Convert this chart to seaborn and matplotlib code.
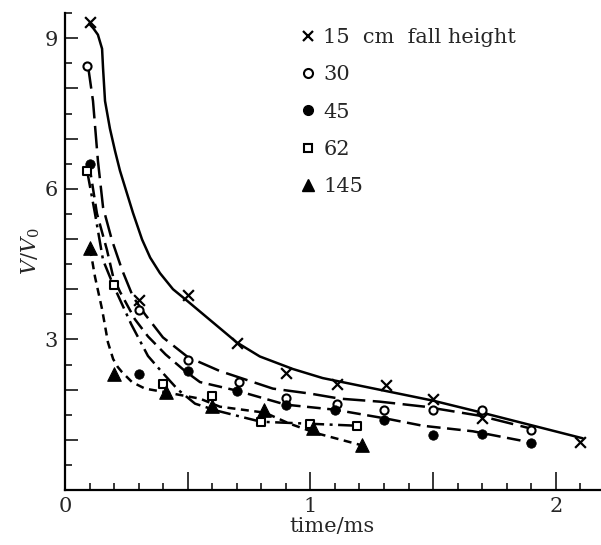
import matplotlib
matplotlib.use("Agg")
import matplotlib.pyplot as plt
from matplotlib.lines import Line2D
from matplotlib.ticker import FixedLocator, MultipleLocator, FuncFormatter
import seaborn as sns

# ---- measured points (time in ms, V/V0) ----
t15 = [0.10, 0.30, 0.50, 0.70, 0.90, 1.11, 1.31, 1.50, 1.70, 2.10]
v15 = [9.33, 3.79, 3.89, 2.92, 2.33, 2.11, 2.09, 1.82, 1.44, 0.95]

t30 = [0.09, 0.30, 0.50, 0.71, 0.90, 1.11, 1.30, 1.50, 1.70, 1.90]
v30 = [8.44, 3.58, 2.59, 2.15, 1.84, 1.72, 1.60, 1.60, 1.60, 1.19]

t45 = [0.10, 0.30, 0.50, 0.70, 0.90, 1.10, 1.30, 1.50, 1.70, 1.90]
v45 = [6.50, 2.31, 2.37, 1.98, 1.70, 1.60, 1.40, 1.09, 1.11, 0.93]

t62 = [0.09, 0.20, 0.40, 0.60, 0.80, 1.00, 1.19]
v62 = [6.36, 4.09, 2.11, 1.88, 1.36, 1.32, 1.28]

t145 = [0.10, 0.20, 0.41, 0.60, 0.81, 1.01, 1.21]
v145 = [4.82, 2.31, 1.96, 1.68, 1.60, 1.23, 0.89]

# ---- fitted curves as drawn in the figure ----
c15_t = [0.098, 0.115, 0.134, 0.151, 0.155, 0.163, 0.183, 0.204, 0.224, 0.253, 0.277, 0.314, 0.347, 0.387, 0.44, 0.50, 0.578, 0.644, 0.70, 0.794, 0.929, 1.05, 1.20, 1.50, 1.70, 2.11]
c15_v = [9.29, 9.20, 9.07, 8.79, 8.40, 7.75, 7.20, 6.75, 6.36, 5.90, 5.52, 4.99, 4.63, 4.32, 4.00, 3.76, 3.44, 3.17, 2.94, 2.66, 2.41, 2.23, 2.08, 1.78, 1.54, 1.03]

c30_t = [0.094, 0.114, 0.134, 0.155, 0.191, 0.232, 0.277, 0.326, 0.399, 0.50, 0.631, 0.847, 1.00, 1.12, 1.283, 1.466, 1.69, 1.894]
c30_v = [8.44, 7.75, 6.56, 5.63, 4.98, 4.39, 3.85, 3.50, 3.04, 2.65, 2.37, 2.02, 1.92, 1.82, 1.76, 1.66, 1.48, 1.23]

c45_t = [0.098, 0.130, 0.171, 0.196, 0.224, 0.285, 0.338, 0.41, 0.489, 0.55, 0.70, 0.90, 1.10, 1.312, 1.458, 1.662, 1.853, 1.902]
c45_v = [6.50, 5.51, 4.78, 4.25, 3.95, 3.40, 3.06, 2.70, 2.37, 2.15, 1.98, 1.70, 1.60, 1.42, 1.28, 1.17, 0.99, 0.93]

c62_t = [0.090, 0.122, 0.155, 0.196, 0.27, 0.338, 0.395, 0.460, 0.530, 0.619, 0.798, 0.998, 1.193]
c62_v = [6.36, 5.51, 4.58, 4.09, 3.30, 2.67, 2.35, 2.00, 1.72, 1.58, 1.36, 1.32, 1.28]

c145_t = [0.102, 0.122, 0.151, 0.175, 0.196, 0.215, 0.232, 0.273, 0.326, 0.395, 0.55, 0.631, 0.815, 0.916, 1.026, 1.21]
c145_v = [4.82, 4.25, 3.60, 2.94, 2.61, 2.45, 2.35, 2.15, 2.02, 1.96, 1.82, 1.66, 1.54, 1.32, 1.13, 0.89]

labels = ["15  cm  fall height", "30", "45", "62", "145"]

sns.set_style("ticks")
plt.rcParams["font.family"] = ["DejaVu Serif"]
plt.rcParams["mathtext.fontset"] = "dejavuserif"

fig = plt.figure(figsize=(6.01, 5.45), dpi=100)
ax = fig.add_axes([0.1082, 0.1009, 0.890, 0.875])

lw = 1.8
styles = [
    (c15_t, c15_v, "-"),
    (c30_t, c30_v, (0, (9, 3))),
    (c45_t, c45_v, (0, (5.5, 2.6))),
    (c62_t, c62_v, (0, (7, 2.2, 1.2, 2.2))),
    (c145_t, c145_v, (0, (3.2, 2.2))),
]
for ct, cv, ls in styles:
    sns.lineplot(x=ct, y=cv, ax=ax, color="black", lw=lw, linestyle=ls,
                 estimator=None, sort=False)

pts = [
    (t15, v15, dict(marker="x", s=60, color="black", linewidths=1.6)),
    (t30, v30, dict(marker="o", s=34, facecolor="white", edgecolor="black", linewidth=1.5)),
    (t45, v45, dict(marker="o", s=46, color="black", edgecolor="black")),
    (t62, v62, dict(marker="s", s=36, facecolor="white", edgecolor="black", linewidth=1.5)),
    (t145, v145, dict(marker="^", s=95, color="black", edgecolor="black")),
]
for t, v, kw in pts:
    sns.scatterplot(x=t, y=v, ax=ax, zorder=3, **kw)

ax.set_xlim(0, 2.18)
ax.set_ylim(0, 9.5)

ax.xaxis.set_major_locator(FixedLocator([0, 0.5, 1, 1.5, 2]))
ax.xaxis.set_minor_locator(MultipleLocator(0.1))
ax.xaxis.set_major_formatter(FuncFormatter(lambda v, p: "%d" % round(v) if abs(v - round(v)) < 1e-6 else ""))
ax.yaxis.set_major_locator(MultipleLocator(1))
ax.yaxis.set_minor_locator(MultipleLocator(0.5))
ax.yaxis.set_major_formatter(FuncFormatter(lambda v, p: "%d" % round(v) if (round(v) % 3 == 0 and round(v) > 0) else ""))

ax.tick_params(axis="x", which="major", direction="in", length=13, width=1.3, labelsize=15, pad=5)
ax.tick_params(axis="x", which="minor", direction="in", length=5, width=1.3)
ax.tick_params(axis="y", which="major", direction="in", length=9, width=1.3, labelsize=15, pad=5)
ax.tick_params(axis="y", which="minor", direction="in", length=5, width=1.3)

for sp in ["top", "right"]:
    ax.spines[sp].set_visible(False)
for sp in ["left", "bottom"]:
    ax.spines[sp].set_linewidth(1.6)
    ax.spines[sp].set_color("black")

ax.set_xlabel("time/ms", fontsize=15, labelpad=1)
ax.set_ylabel(r"$V/V_0$", fontsize=15, labelpad=2)

handles = [
    Line2D([], [], ls="none", marker="x", color="black", markersize=7, markeredgewidth=1.6),
    Line2D([], [], ls="none", marker="o", markerfacecolor="white", markeredgecolor="black", markersize=6.5, markeredgewidth=1.5),
    Line2D([], [], ls="none", marker="o", color="black", markersize=7),
    Line2D([], [], ls="none", marker="s", markerfacecolor="white", markeredgecolor="black", markersize=6, markeredgewidth=1.5),
    Line2D([], [], ls="none", marker="^", color="black", markersize=9),
]
ax.legend(handles, labels, frameon=False, loc="upper left", bbox_to_anchor=(0.415, 0.995),
          handlelength=0.8, handletextpad=0.35, labelspacing=0.88, fontsize=15,
          borderaxespad=0.2)

fig.savefig("out.png", dpi=100)
